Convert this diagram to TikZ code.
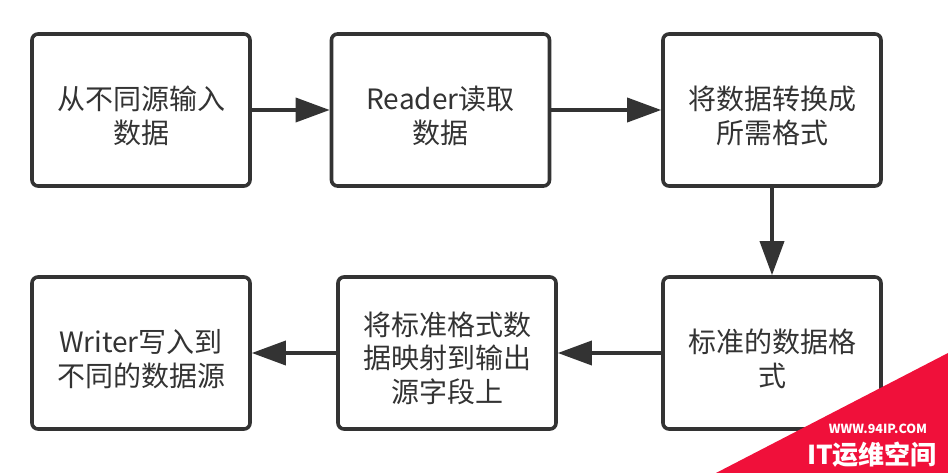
\documentclass[tikz,border=0pt]{standalone}
\usepackage{fontspec}
\setmainfont{Noto Sans CJK SC}
\usetikzlibrary{arrows.meta}
\definecolor{ink}{HTML}{333333}
\definecolor{wmred}{HTML}{F0103A}
\begin{document}
\begin{tikzpicture}[x=1pt,y=-1pt,
  box/.style={draw=ink, line width=3.6pt, rounded corners=6pt, fill=white,
    minimum width=218pt, minimum height=152pt, inner sep=0pt},
  txt/.style={align=center, text=ink, inner sep=0pt,
    font=\fontsize{28}{33.5}\selectfont},
  flow/.style={draw=ink, line width=3.6pt,
    -{Triangle[length=34pt,width=24pt]}}]
\useasboundingbox (0,0) rectangle (948,473);
\fill[white] (0,0) rectangle (948,473);
\node[box] (b1) at (141,110) {};
\node[box] (b2) at (440.5,110) {};
\node[box] (b3) at (772,110) {};
\node[box] (b6) at (772,353) {};
\node[box] (b5) at (447,353) {};
\node[box] (b4) at (141,353) {};
\node[txt] (t1) at ([yshift=-6pt]b1.center) {从不同源输入\\数据};
\node[txt] (t2) at ([yshift=-6pt]b2.center) {Reader读取\\数据};
\node[txt] (t3) at ([yshift=-6pt]b3.center) {将数据转换成\\所需格式};
\node[txt] (t6) at ([yshift=-6pt]b6.center) {标准的数据格\\式};
\node[txt] (t5) at ([yshift=-5pt]b5.center) {将标准格式数\\据映射到输出\\源字段上};
\node[txt] (t4) at ([yshift=-6pt]b4.center) {Writer写入到\\不同的数据源};
\draw[flow] (b1) -- (b2);
\draw[flow] (b2) -- (b3);
\draw[flow] (b3) -- (b6);
\draw[flow] (b6) -- (b5);
\draw[flow] (b5) -- (b4);
% watermark
\fill[wmred] (716,473) -- (948,353) -- (948,473) -- cycle;
\node[text=white, font=\bfseries\fontsize{12.5}{12.5}\selectfont, inner sep=0pt] (wm1) at (878,429) {WWW.94IP.COM};
\node[text=white, font=\bfseries\fontsize{26}{26}\selectfont, inner sep=0pt] (wm2) at (872,455) {IT运维空间};
\end{tikzpicture}
\end{document}
